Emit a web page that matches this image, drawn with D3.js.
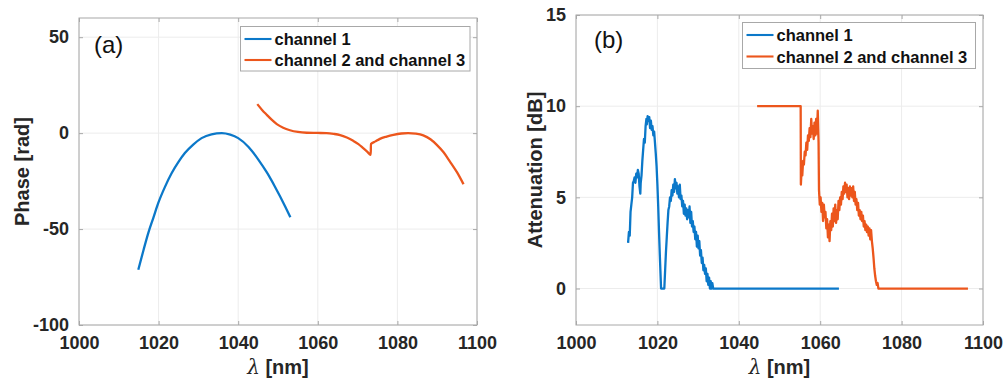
<!DOCTYPE html>
<html>
<head>
<meta charset="utf-8">
<script src="https://cdn.jsdelivr.net/npm/d3@7"></script>
<style>
  html, body { margin: 0; padding: 0; background: #fff; }
  svg { display: block; }
  text { font-family: "Liberation Sans", Arial, Helvetica, sans-serif; }
</style>
</head>
<body>
<svg id="chart" width="1006" height="379"></svg>
<script>
// ---------------- DATA ----------------
const seriesNames = ["channel 1", "channel 2 and channel 3"];
const xTicks = [1000, 1020, 1040, 1060, 1080, 1100];
const phaseTicks = [-100, -50, 0, 50];
const attenTicks = [0, 5, 10, 15];

// (a) Phase [rad] vs wavelength [nm]
const phaseCh1 = [
  [1014.9, -71.2], [1016.2, -61], [1017.4, -52.1], [1018.7, -44], [1019.9, -36.5],
  [1021.6, -28], [1023.3, -20.8], [1025.0, -15], [1026.6, -10.4], [1028.7, -6],
  [1030.8, -2.6], [1033.3, -0.6], [1035.9, 0], [1038.0, -0.8], [1040.0, -2.6],
  [1042.6, -7.2], [1045.1, -13.9], [1047.2, -20.5], [1049.2, -27.8], [1051.8, -38.2],
  [1053.1, -43.8]
];
const phaseCh23 = [
  [1044.8, 15.1], [1046.0, 12.1], [1047.2, 9.5], [1048.4, 7.0], [1049.7, 4.7],
  [1051.3, 2.8], [1053.0, 1.5], [1055.0, 0.6], [1057.2, 0.2], [1060.0, 0.1],
  [1062.2, 0], [1064.0, -0.4], [1065.6, -1.0], [1067.3, -2.3], [1068.9, -4.0],
  [1070.2, -5.7], [1071.4, -7.8], [1072.4, -9.6], [1073.3, -11.3], [1073.35, -5.7],
  [1074.5, -4.3], [1075.6, -3.0], [1077.3, -1.8], [1079.0, -0.9], [1081.0, -0.2],
  [1082.7, 0], [1084.6, -0.3], [1086.5, -1.2], [1088.3, -3.2], [1089.9, -6.1],
  [1091.6, -10.0], [1093.2, -14.8], [1095.0, -20.5], [1096.6, -26.6]
];

// (b) Attenuation [dB] vs wavelength [nm]
const attenCh1 = [
  [1012.8,2.5],[1013.0,3.1],[1013.2,2.9],[1013.4,4.2],[1013.6,4.6],[1013.8,5.0],[1014.0,5.8],
  [1014.2,5.9],[1014.4,6.1],[1014.6,5.8],[1014.8,6.3],[1015.0,6.1],[1015.2,6.5],[1015.4,6.3],
  [1015.6,5.6],[1015.8,5.2],[1015.9,5.8],[1016.1,6.2],[1016.3,7.0],[1016.5,7.6],[1016.7,8.2],
  [1016.9,8.0],[1017.1,8.9],[1017.3,9.3],[1017.4,9.0],[1017.6,9.45],[1017.8,9.2],[1018.0,9.4],
  [1018.2,8.8],[1018.4,9.2],[1018.6,8.7],[1018.8,8.9],[1019.0,8.4],[1019.2,8.6],[1019.4,8.0],
  [1019.6,7.4],[1019.8,6.7],[1020.0,5.7],[1020.2,4.5],[1020.4,3.1],[1020.6,1.8],[1020.8,0.6],
  [1020.9,0],[1021.7,0],[1021.9,1.0],[1022.1,2.0],[1022.3,2.8],[1022.5,3.6],[1022.7,4.3],
  [1022.9,4.5],[1023.1,5.0],[1023.3,4.8],[1023.5,5.4],[1023.7,5.1],[1023.9,5.7],[1024.1,5.3],
  [1024.3,6.0],[1024.5,5.5],[1024.7,5.8],[1024.9,5.2],[1025.1,5.6],[1025.3,5.0],[1025.5,5.7],
  [1025.7,4.9],[1025.9,5.1],[1026.1,4.5],[1026.3,4.8],[1026.5,4.1],[1026.7,4.6],[1026.9,4.0],
  [1027.1,4.4],[1027.3,3.8],[1027.5,4.3],[1027.7,3.9],[1027.9,4.5],[1028.1,3.6],[1028.3,4.2],
  [1028.5,3.4],[1028.7,3.7],[1028.9,3.1],[1029.1,3.4],[1029.3,2.7],[1029.5,3.1],[1029.7,2.3],
  [1029.9,2.9],[1030.1,2.2],[1030.3,2.6],[1030.5,1.8],[1030.7,2.1],[1030.9,1.4],[1031.1,1.7],
  [1031.3,1.0],[1031.5,1.3],[1031.7,0.8],[1031.9,1.1],[1032.1,0.4],[1032.3,0.8],[1032.5,0.2],
  [1032.7,0.6],[1032.9,0],[1033.1,0.4],[1033.3,0],[1033.5,0.3],[1033.7,0],[1064.6,0]
];
const attenCh23 = [
  [1044.5,10],[1055.2,10],[1055.25,5.7],[1055.4,6.4],[1055.6,6.2],[1055.8,7.0],[1056.0,6.8],
  [1056.2,7.5],[1056.4,7.3],[1056.6,8.0],[1056.8,7.6],[1057.0,8.4],[1057.2,8.1],[1057.4,8.8],
  [1057.6,8.3],[1057.8,9.3],[1058.0,8.5],[1058.2,8.9],[1058.4,8.2],[1058.6,9.1],[1058.8,8.4],
  [1059.0,9.3],[1059.2,8.5],[1059.4,9.75],[1059.6,8.0],[1059.7,5.4],[1059.9,4.6],[1060.1,5.0],
  [1060.3,4.2],[1060.5,4.7],[1060.7,3.7],[1060.9,4.6],[1061.1,3.9],[1061.3,4.2],[1061.5,3.3],
  [1061.7,3.8],[1061.9,2.8],[1062.1,3.5],[1062.3,2.6],[1062.5,3.7],[1062.7,3.2],[1062.9,4.1],
  [1063.1,3.4],[1063.3,4.4],[1063.5,3.7],[1063.7,4.6],[1063.9,3.6],[1064.1,4.3],[1064.3,3.8],
  [1064.5,4.8],[1064.7,4.3],[1064.9,5.0],[1065.1,4.6],[1065.3,5.3],[1065.5,4.9],[1065.7,5.6],
  [1065.9,5.2],[1066.1,5.8],[1066.3,5.3],[1066.5,5.7],[1066.7,5.0],[1066.9,5.5],[1067.1,4.9],
  [1067.3,5.6],[1067.5,5.1],[1067.7,5.5],[1067.9,5.0],[1068.1,5.6],[1068.3,4.8],[1068.5,5.3],
  [1068.7,4.6],[1068.9,4.9],[1069.1,4.3],[1069.3,4.7],[1069.5,4.0],[1069.7,4.3],[1069.9,3.8],
  [1070.1,4.2],[1070.3,3.7],[1070.5,4.0],[1070.7,3.4],[1070.9,3.7],[1071.1,3.2],[1071.3,3.5],
  [1071.5,3.1],[1071.7,3.4],[1071.9,2.9],[1072.1,3.3],[1072.3,2.7],[1072.5,3.2],[1072.7,2.6],
  [1072.9,2.2],[1073.1,1.7],[1073.3,1.1],[1073.5,0.7],[1073.7,0.4],[1073.9,0.2],[1074.1,0.3],
  [1074.3,0],[1096.3,0]
];

// ---------------- STYLE ----------------
const colors = ["#0b78c9", "#ec561c"];
const boxColor = "#a8a8a8";
const gridColor = "#ececec";
const textColor = "#262626";

const svg = d3.select("#chart");

function drawPanel(cfg) {
  const x = d3.scaleLinear().domain([1000, 1100]).range([cfg.left, cfg.right]);
  const y = d3.scaleLinear().domain(cfg.yDomain).range([cfg.bottom, cfg.top]);
  const g = svg.append("g");

  // grid
  g.append("g").selectAll("line").data(xTicks).join("line")
    .attr("x1", d => x(d)).attr("x2", d => x(d))
    .attr("y1", cfg.top).attr("y2", cfg.bottom)
    .attr("stroke", gridColor).attr("stroke-width", 1);
  g.append("g").selectAll("line").data(cfg.yTicks).join("line")
    .attr("x1", cfg.left).attr("x2", cfg.right)
    .attr("y1", d => y(d)).attr("y2", d => y(d))
    .attr("stroke", gridColor).attr("stroke-width", 1);

  // axes (ticks inward, labels via d3 axis)
  const xAxis = d3.axisBottom(x).tickValues(xTicks).tickSizeInner(-4).tickSizeOuter(0).tickPadding(11).tickFormat(d3.format("d"));
  const yAxis = d3.axisLeft(y).tickValues(cfg.yTicks).tickSizeInner(-4).tickSizeOuter(0).tickPadding(10).tickFormat(d => d3.format("d")(d).replace("−", "-"));
  const gx = g.append("g").attr("transform", `translate(0,${cfg.bottom})`).call(xAxis);
  const gy = g.append("g").attr("transform", `translate(${cfg.left},0)`).call(yAxis);
  // top / right ticks
  g.append("g").attr("transform", `translate(0,${cfg.top})`)
    .call(d3.axisTop(x).tickValues(xTicks).tickSizeInner(-4).tickSizeOuter(0).tickFormat(""));
  g.append("g").attr("transform", `translate(${cfg.right},0)`)
    .call(d3.axisRight(y).tickValues(cfg.yTicks).tickSizeInner(-4).tickSizeOuter(0).tickFormat(""));
  g.selectAll(".domain").remove();
  g.selectAll(".tick line").attr("stroke", boxColor);
  [gx, gy].forEach(a => a.selectAll("text")
    .attr("font-family", "'Liberation Sans', Arial, sans-serif")
    .attr("font-weight", "bold").attr("font-size", 18).attr("fill", textColor));
  gx.selectAll("text").attr("dy", "0.71em");

  // box
  g.append("rect").attr("x", cfg.left).attr("y", cfg.top)
    .attr("width", cfg.right - cfg.left).attr("height", cfg.bottom - cfg.top)
    .attr("fill", "none").attr("stroke", boxColor).attr("stroke-width", 1);

  // lines
  const clipId = "clip" + cfg.id;
  g.append("clipPath").attr("id", clipId).append("rect")
    .attr("x", cfg.left).attr("y", cfg.top)
    .attr("width", cfg.right - cfg.left).attr("height", cfg.bottom - cfg.top);
  const line = d3.line().x(d => x(d[0])).y(d => y(d[1])).curve(cfg.curve);
  cfg.series.forEach((s, i) => {
    g.append("path").datum(s).attr("d", line)
      .attr("clip-path", `url(#${clipId})`)
      .attr("fill", "none").attr("stroke", colors[i])
      .attr("stroke-width", 2.3).attr("stroke-linejoin", "round");
  });

  // x label
  const xl = g.append("text").attr("x", (cfg.left + cfg.right) / 2 + 0).attr("y", 374)
    .attr("text-anchor", "middle").attr("font-size", 20).attr("font-weight", "bold").attr("fill", textColor);
  xl.append("tspan").attr("font-weight", "normal").attr("font-style", "italic").attr("font-family", "'DejaVu Serif', serif").text("λ");
  xl.append("tspan").text(" [nm]");

  // y label
  g.append("text")
    .attr("transform", `translate(${cfg.yLabelX},${(cfg.top + cfg.bottom) / 2}) rotate(-90)`)
    .attr("text-anchor", "middle").attr("font-size", 20).attr("font-weight", "bold")
    .attr("fill", textColor).text(cfg.yLabel);

  // panel tag
  g.append("text").attr("x", cfg.tagX).attr("y", cfg.tagY)
    .attr("font-size", 24).attr("fill", "#111").text(cfg.tag);

  // legend
  const L = cfg.legend;
  const lg = g.append("g");
  lg.append("rect").attr("x", L.x).attr("y", L.y).attr("width", L.w).attr("height", L.h)
    .attr("fill", "#fff").attr("stroke", boxColor).attr("stroke-width", 1);
  seriesNames.forEach((name, i) => {
    const cy = L.y + L.rowY[i];
    lg.append("line").attr("x1", L.x + 4).attr("x2", L.x + 31)
      .attr("y1", cy).attr("y2", cy).attr("stroke", colors[i]).attr("stroke-width", 2.1);
    lg.append("text").attr("x", L.x + 34).attr("y", cy + 6)
      .attr("font-size", 16.5).attr("font-weight", "bold").attr("fill", "#111").text(name);
  });
}

drawPanel({
  id: "a", left: 79, right: 477, top: 18, bottom: 325,
  yDomain: [-100, 60], yTicks: phaseTicks, yLabel: "Phase [rad]", yLabelX: 29,
  series: [phaseCh1, phaseCh23], curve: d3.curveMonotoneX,
  tag: "(a)", tagX: 94, tagY: 53,
  legend: { x: 240.5, y: 26.5, w: 229.5, h: 44.5, rowY: [12.5, 33.5] }
});

drawPanel({
  id: "b", left: 576, right: 983, top: 15, bottom: 325,
  yDomain: [-2, 15], yTicks: attenTicks, yLabel: "Attenuation [dB]", yLabelX: 542,
  series: [attenCh1, attenCh23], curve: d3.curveLinear,
  tag: "(b)", tagX: 594, tagY: 48,
  legend: { x: 742.5, y: 22.5, w: 233, h: 46, rowY: [12.5, 34] }
});
</script>
</body>
</html>
